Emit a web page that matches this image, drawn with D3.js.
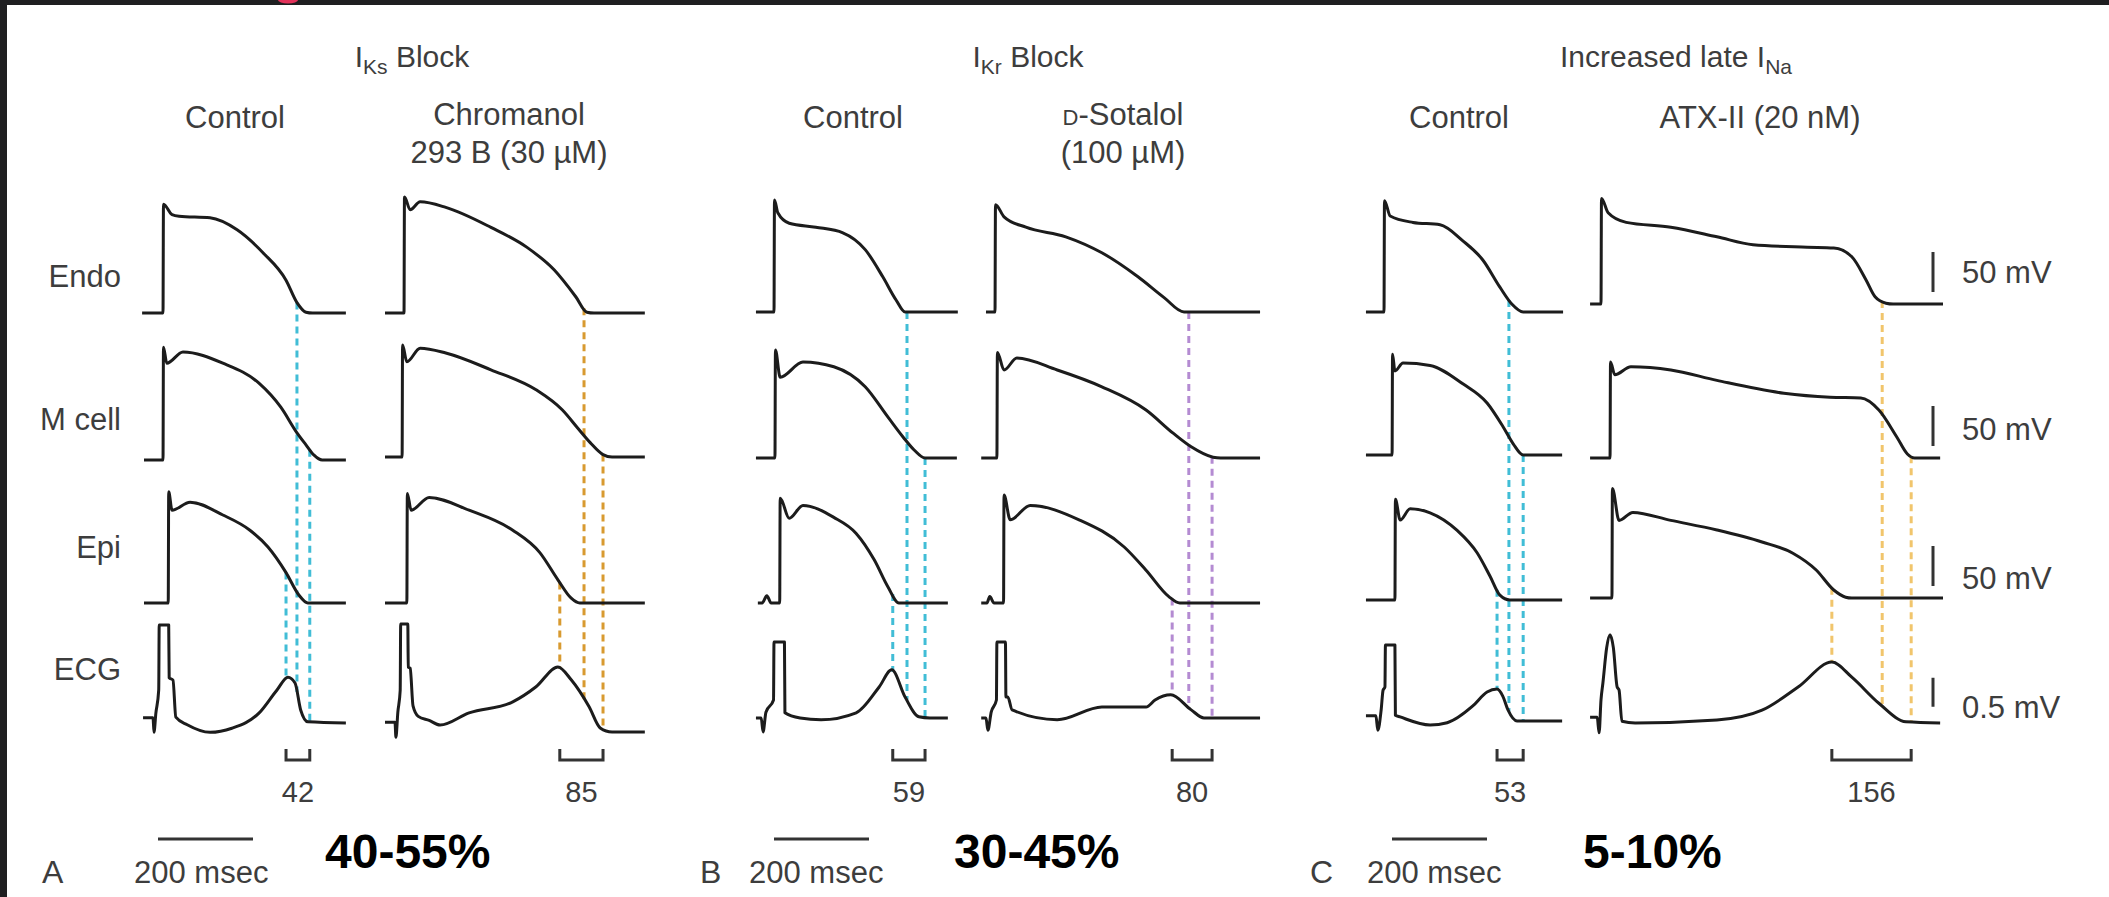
<!DOCTYPE html>
<html>
<head>
<meta charset="utf-8">
<script src="https://cdn.jsdelivr.net/npm/d3@7"></script>
<style>
  html, body { margin: 0; padding: 0; background: #fff; }
  svg { display: block; }
  text { font-family: "Liberation Sans", Arial, Helvetica, sans-serif; fill: #3d3d3d; }
</style>
</head>
<body>
<svg id="chart" width="2109" height="897"></svg>
<script>
// traces: [time in msec from upstroke, membrane potential in mV] ; ECG in mV
let aCtrlEndo = [[-44,-85],[0,-85],[1,51],[19,38],[34,36],[99,34],[156,19],[211,-10],[259,-44],[282,-72],[301,-84],[315,-85],[385,-85]];
let aCtrlM = [[-40,-85],[0,-85],[1,56],[8,36],[42,50],[126,36],[202,11],[248,-19],[282,-51],[301,-66],[318,-79],[335,-85],[385,-85]];
let aCtrlEpi = [[-40,-85],[11,-85],[12,54],[19,31],[57,41],[126,25],[183,6],[221,-15],[259,-47],[286,-75],[305,-85],[385,-85]];
let aCtrlEcg = [[-42,0.09],[-21,0.09],[-19,-0.16],[-15,0.17],[-9,0.57],[-8,1.69],[12,1.69],[13,0.78],[21,0.74],[27,0.1],[51,-0.03],[99,-0.16],[145,-0.09],[202,0.17],[240,0.57],[263,0.79],[278,0.69],[290,0.22],[305,0.02],[385,0]];

let aDrugEndo = [[-40,-85],[0,-85],[1,60],[13,44],[34,54],[88,47],[183,22],[259,-3],[316,-31],[362,-65],[385,-84],[400,-85],[507,-85]];
let aDrugM = [[-40,-85],[-4,-85],[-3,55],[6,34],[34,51],[88,45],[183,24],[278,-1],[333,-26],[366,-49],[392,-67],[419,-82],[438,-85],[507,-85]];
let aDrugEpi = [[-40,-85],[6,-85],[7,52],[15,31],[53,47],[137,31],[229,6],[286,-22],[324,-56],[352,-79],[370,-85],[507,-85]];
let aDrugEcg = [[-40,0.17],[-19,0.17],[-17,-0.09],[-13,0.34],[-8,0.72],[-7,1.86],[8,1.86],[9,1.12],[13,1.1],[19,0.45],[30,0.27],[53,0.2],[76,0.12],[137,0.33],[229,0.52],[278,0.78],[324,1.12],[352,0.9],[390,0.43],[413,0.07],[438,0],[507,0]];

let bCtrlEndo = [[-38,-85],[0,-85],[1,55],[8,39],[32,26],[88,21],[145,14],[192,-7],[229,-41],[257,-70],[276,-85],[387,-85]];
let bCtrlM = [[-38,-85],[2,-85],[3,50],[13,16],[61,35],[126,29],[192,4],[240,-34],[272,-59],[295,-75],[318,-85],[385,-85]];
let bCtrlEpi = [[-34,-85],[-25,-85],[-15,-76],[-6,-85],[12,-85],[13,46],[32,21],[61,37],[126,22],[173,2],[211,-31],[240,-65],[263,-85],[366,-85]];
let bCtrlEcg = [[-38,0],[-27,0],[-23,-0.24],[-17,0.1],[-1,0.31],[0,1.31],[22,1.31],[23,0.09],[55,0],[99,-0.03],[173,0.09],[221,0.53],[248,0.83],[276,0.36],[305,0.02],[328,0],[366,0]];

let bDrugEndo = [[-19,-85],[0,-85],[1,49],[19,34],[65,21],[149,9],[225,-11],[301,-41],[356,-67],[398,-85],[558,-85]];
let bDrugM = [[-29,-85],[4,-85],[5,47],[19,25],[46,40],[131,25],[225,4],[318,-25],[375,-54],[413,-71],[459,-84],[475,-85],[558,-85]];
let bDrugEpi = [[-29,-85],[-17,-85],[-11,-77],[-2,-85],[18,-85],[19,50],[32,19],[74,37],[177,19],[272,-15],[318,-44],[366,-77],[389,-85],[558,-85]];
let bDrugEcg = [[-29,0],[-19,0],[-15,-0.21],[-8,0.1],[3,0.31],[4,1.31],[22,1.31],[23,0.36],[27,0.36],[36,0.14],[131,-0.03],[225,0.19],[318,0.19],[337,0.31],[370,0.4],[413,0.14],[440,0],[558,0]];

let cCtrlEndo = [[-38,-85],[0,-85],[1,54],[13,35],[61,27],[118,24],[166,4],[208,-20],[244,-54],[269,-75],[293,-85],[377,-85]];
let cCtrlM = [[-38,-85],[17,-85],[18,41],[23,20],[40,30],[97,27],[166,4],[217,-20],[250,-49],[272,-71],[293,-85],[375,-85]];
let cCtrlEpi = [[-38,-85],[23,-85],[24,41],[34,15],[55,29],[97,24],[154,2],[196,-26],[223,-55],[244,-79],[265,-85],[375,-85]];
let cCtrlEcg = [[-38,0.09],[-17,0.09],[-13,-0.16],[-6,0.19],[-2,0.53],[2,0.59],[3,1.31],[23,1.31],[24,0.1],[34,0.07],[97,-0.07],[133,-0.03],[187,0.26],[217,0.5],[238,0.55],[250,0.43],[261,0.19],[280,0],[375,0]];

let cDrugEndo = [[-23,-85],[0,-85],[1,47],[15,29],[53,17],[147,11],[244,-1],[320,-11],[434,-14],[490,-15],[528,-26],[558,-55],[577,-76],[600,-84],[615,-85],[720,-85]];
let cDrugM = [[-23,-85],[19,-85],[20,35],[29,19],[63,29],[147,25],[244,12],[385,-4],[482,-9],[547,-10],[585,-25],[623,-59],[645,-80],[660,-85],[714,-85]];
let cDrugEpi = [[-23,-85],[23,-85],[24,52],[38,12],[67,22],[147,12],[244,0],[339,-15],[404,-29],[453,-50],[490,-75],[515,-84],[528,-85],[720,-85]];
let cDrugEcg = [[-23,0.1],[-8,0.1],[-4,-0.17],[0,0.4],[4,0.69],[12,1.3],[19,1.52],[26,1.3],[34,0.62],[38,0.57],[44,0.03],[72,0],[244,0.05],[339,0.22],[415,0.62],[486,1.05],[528,0.79],[585,0.34],[642,0.02],[714,0]];

// end of repolarisation (msec): [Epi, Endo, M cell]
let qtMarks = [[259,282,309],[328,379,419],[250,280,318],[373,408,457],[238,263,293],[486,592,653]];
let qtLabels = ["42","85","59","80","53","156"];

let panelTitles = [["I","Ks"," Block"],["I","Kr"," Block"],["Increased late I","Na",""]];
let columnHeads = [["Control"],["Chromanol","293 B (30 \u00b5M)"],["Control"],["D-Sotalol","(100 \u00b5M)"],["Control"],["ATX-II (20 nM)"]];
let rowNames = ["Endo","M cell","Epi","ECG"];
let voltLabels = ["50 mV","50 mV","50 mV","0.5 mV"];
let panelLetters = ["A","B","C"];
let blockPct = ["40-55%","30-45%","5-10%"];
let timeBarMs = 200;

// layout
const W = 2109, H = 897;
const msPx = 0.475, mvPx = 0.8, ecgPx = 58;
let colX0 = [163, 404, 774, 995, 1384, 1601];
let colBase = [[313,460,603,723],[313,457,603,732],[312,458,603,718],[312,458,603,718],[312,455,600,721],[304,458,598,723]];
let markColors = ["#41bdd6","#d89a30","#41bdd6","#b48bd2","#41bdd6","#f1c56c"];
let titleX = [412, 1028, 1676];
let headX = [235, 509, 853, 1123, 1459, 1760];
let letterX = [42, 700, 1310], msecX = [134, 749, 1367], barX = [158, 774, 1392], pctX = [325, 954, 1583];

let traces = [
  [aCtrlEndo, aCtrlM, aCtrlEpi, aCtrlEcg],
  [aDrugEndo, aDrugM, aDrugEpi, aDrugEcg],
  [bCtrlEndo, bCtrlM, bCtrlEpi, bCtrlEcg],
  [bDrugEndo, bDrugM, bDrugEpi, bDrugEcg],
  [cCtrlEndo, cCtrlM, cCtrlEpi, cCtrlEcg],
  [cDrugEndo, cDrugM, cDrugEpi, cDrugEcg]
];

function valueAt(data, t) {
  for (let i = 0; i < data.length - 1; i++) {
    let a = data[i], b = data[i + 1];
    if (t >= a[0] && t <= b[0]) return a[1] + (b[1] - a[1]) * (t - a[0]) / (b[0] - a[0]);
  }
  return data[data.length - 1][1];
}

let svg = d3.select("#chart");
svg.append("rect").attr("width", W).attr("height", H).attr("fill", "#fff");
svg.append("rect").attr("width", W).attr("height", 5).attr("fill", "#1f1f21");
svg.append("rect").attr("width", 7).attr("height", H).attr("fill", "#1f1f21");
svg.append("ellipse").attr("cx", 288).attr("cy", 0).attr("rx", 10).attr("ry", 3.5).attr("fill", "#e2325a");

let yScales = [];
colX0.forEach(function (x0, i) {
  let g = svg.append("g");
  let x = d3.scaleLinear().domain([0, timeBarMs]).range([x0, x0 + timeBarMs * msPx]);
  let ys = colBase[i].map(function (b, r) {
    return r < 3
      ? d3.scaleLinear().domain([-85, 50]).range([b, b - 135 * mvPx])
      : d3.scaleLinear().domain([0, 1]).range([b, b - ecgPx]);
  });
  yScales.push(ys);

  // dashed lines: Epi, Endo, M cell down to the ECG
  let fromRow = [2, 0, 1];
  qtMarks[i].forEach(function (t, k) {
    let r = fromRow[k];
    g.append("line")
      .attr("x1", x(t)).attr("x2", x(t))
      .attr("y1", ys[r](valueAt(traces[i][r], t)))
      .attr("y2", ys[3](valueAt(traces[i][3], t)))
      .attr("stroke", markColors[i])
      .attr("stroke-width", 3)
      .attr("stroke-dasharray", "7,5");
  });

  traces[i].forEach(function (d, r) {
    let line = d3.line()
      .x(function (p) { return x(p[0]); })
      .y(function (p) { return ys[r](p[1]); })
      .curve(d3.curveMonotoneX);
    g.append("path").datum(d)
      .attr("d", line)
      .attr("fill", "none")
      .attr("stroke", "#1c1c1c")
      .attr("stroke-width", 3)
      .attr("stroke-linejoin", "round");
  });

  // bracket with QT dispersion
  let t0 = d3.min(qtMarks[i]), t1 = d3.max(qtMarks[i]);
  g.append("path")
    .attr("d", "M" + x(t0) + ",749V760H" + x(t1) + "V749")
    .attr("fill", "none").attr("stroke", "#333").attr("stroke-width", 3);
  g.append("text")
    .attr("x", (x(t0) + x(t1)) / 2).attr("y", 802)
    .attr("text-anchor", "middle").attr("font-size", 29)
    .text(qtLabels[i]);

  // column heading
  let head = g.append("text").attr("text-anchor", "middle").attr("font-size", 31);
  columnHeads[i].forEach(function (s, k) {
    let y = columnHeads[i].length > 1 ? 125 + k * 38 : 128;
    let ts = head.append("tspan").attr("x", headX[i]).attr("y", y);
    if (s.indexOf("D-") === 0) {
      ts.append("tspan").attr("font-size", 22).text("D");
      ts.append("tspan").text(s.slice(1));
    } else {
      ts.text(s);
    }
  });
});

// panel titles with subscripts
panelTitles.forEach(function (p, i) {
  let t = svg.append("text").attr("x", titleX[i]).attr("y", 67)
    .attr("text-anchor", "middle").attr("font-size", 30);
  t.append("tspan").text(p[0]);
  t.append("tspan").attr("font-size", 21).attr("dy", 7).text(p[1]);
  if (p[2]) t.append("tspan").attr("dy", -7).text(p[2]);
});

// row labels
let rowY = [287, 430, 558, 680];
rowNames.forEach(function (s, r) {
  svg.append("text").attr("x", 121).attr("y", rowY[r])
    .attr("text-anchor", "end").attr("font-size", 31).text(s);
});

// voltage scale bars on the right (50 mV / 0.5 mV)
let ysC = yScales[5];
let voltY = [283, 440, 589, 718];
voltLabels.forEach(function (s, r) {
  let y0 = r < 3 ? ysC[r](-70) : ysC[r](0.28);
  let y1 = r < 3 ? ysC[r](-20) : ysC[r](0.78);
  svg.append("line").attr("x1", 1933).attr("x2", 1933)
    .attr("y1", y0).attr("y2", y1)
    .attr("stroke", "#333").attr("stroke-width", 3);
  svg.append("text").attr("x", 1962).attr("y", voltY[r])
    .attr("font-size", 31).text(s);
});

// bottom: panel letters, 200 msec bars, block percentages
panelLetters.forEach(function (s, i) {
  svg.append("text").attr("x", letterX[i]).attr("y", 883).attr("font-size", 32).text(s);
  svg.append("text").attr("x", msecX[i]).attr("y", 883).attr("font-size", 31).text(timeBarMs + " msec");
  svg.append("line")
    .attr("x1", barX[i]).attr("x2", barX[i] + timeBarMs * msPx)
    .attr("y1", 839).attr("y2", 839)
    .attr("stroke", "#333").attr("stroke-width", 3);
  svg.append("text").attr("x", pctX[i]).attr("y", 868)
    .attr("font-size", 48).attr("font-weight", "bold")
    .style("fill", "#000").text(blockPct[i]);
});
</script>
</body>
</html>
